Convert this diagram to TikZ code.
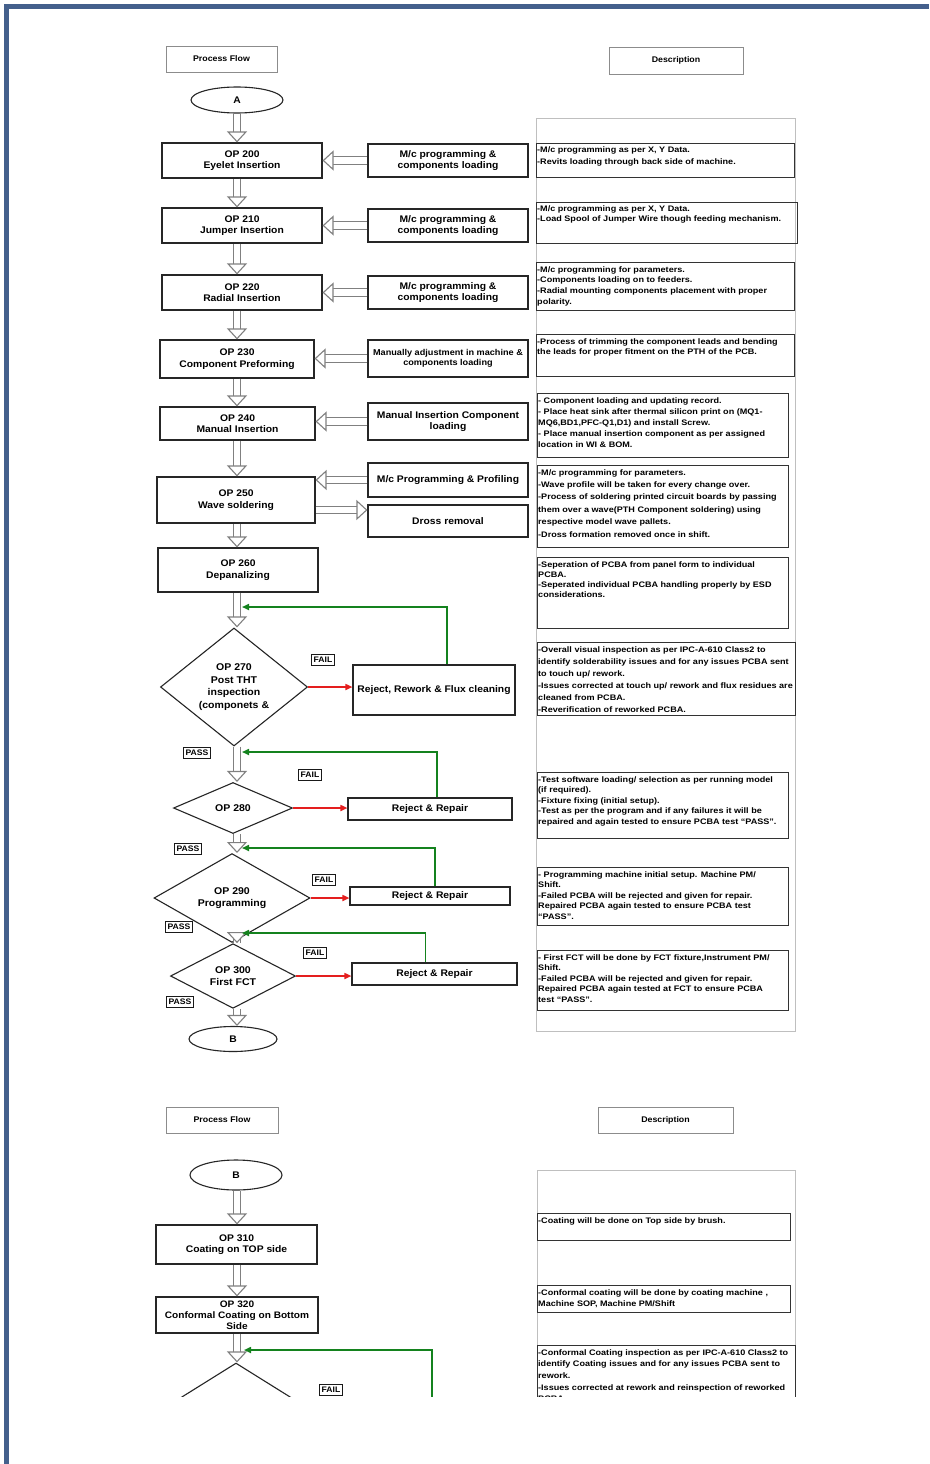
\documentclass[tikz,border=0pt]{standalone}
\usepackage{fontspec}
\setmainfont{Liberation Sans}
\newfontfamily\fa[FakeStretch=1.075]{Liberation Sans}
\newfontfamily\fb[FakeStretch=1.134]{Liberation Sans}
\usetikzlibrary{shapes.geometric,arrows.meta,fit,calc}
\begin{document}
\begin{tikzpicture}[x=1pt,y=-1pt,
  box/.style={draw=black!85, line width=1.1pt, inner sep=0pt, align=center, font=\fa\fontsize{9.6}{11.5}\selectfont\bfseries},
  hdr/.style={draw=black!45, line width=0.9pt, inner sep=0pt, align=center, font=\fa\fontsize{8.2}{9}\selectfont\bfseries},
  dbox/.style={draw=black!80, line width=1pt, inner sep=0pt},
  obox/.style={draw=black!25, line width=0.9pt, inner sep=0pt},
  dtext/.style={anchor=north west, inner sep=0pt, xshift=1.5pt, yshift=-4.5pt, align=left, font=\fb\fontsize{8}{10.5}\selectfont\bfseries},
  dia/.style={diamond, draw=black!85, line width=1.1pt, inner sep=0pt, align=center, font=\fa\fontsize{9.8}{12.5}\selectfont\bfseries},
  oval/.style={ellipse, draw=black!85, line width=1.1pt, inner sep=0pt, font=\fa\fontsize{9.6}{10}\selectfont\bfseries},
  hollow/.style={draw=black!50, line width=1.2pt, double=white, double distance=6.5pt,
     -{Triangle[fill=white, length=11pt, width=20pt, line width=1.1pt]}},
  redarr/.style={draw={rgb,255:red,228;green,30;blue,30}, line width=1.6pt, -{Triangle[length=7pt,width=6pt]}},
  grnarr/.style={draw={rgb,255:red,20;green,130;blue,30}, line width=1.6pt, -{Triangle[length=7pt,width=6pt]}},
  tag/.style={draw=black!90, line width=1.1pt, inner xsep=2pt, inner ysep=2.8pt, font=\fa\fontsize{8}{8}\selectfont\bfseries}
]
\useasboundingbox (0,0) rectangle (929,1464);
\fill[white] (0,0) rectangle (929,1464);
\draw[line width=5pt, color={rgb,255:red,68;green,96;blue,140}] (6.5,1464) -- (6.5,6.5) -- (929,6.5);

\begin{scope}
\clip (140,20) rectangle (812,1396);
\coordinate (cx) at (237,0);

% headers
\node[hdr, minimum width=111pt, minimum height=26pt] (h1) at (221.5,59) {Process Flow};
\node[hdr, minimum width=134pt, minimum height=27pt] (h2) at (676,60.5) {Description};
\node[hdr, minimum width=112pt, minimum height=26pt] (h3) at (222,1120) {Process Flow};
\node[hdr, minimum width=135pt, minimum height=26pt] (h4) at (665.5,1120) {Description};

% outer description frames
\node[obox, fit={(536,118) (795,1031)}] (outer1) {};
\node[obox, fit={(537,1170) (795,1420)}] (outer2) {};

% ovals
\node[oval, minimum width=92pt, minimum height=26pt] (A) at (237,100) {A};
\node[oval, minimum width=88pt, minimum height=25pt] (B) at (233,1039) {B};
\node[oval, minimum width=92pt, minimum height=30pt] (B2) at (236,1175) {B};

% flow boxes
\node[box, minimum width=160pt, minimum height=35pt] (op200) at (242,160.5) {OP 200\\Eyelet Insertion};
\node[box, minimum width=160pt, minimum height=35pt] (op210) at (242,225.5) {OP 210\\Jumper Insertion};
\node[box, minimum width=160pt, minimum height=35pt] (op220) at (242,292.5) {OP 220\\Radial Insertion};
\node[box, minimum width=154pt, minimum height=38pt] (op230) at (237,359) {OP 230\\Component Preforming};
\node[box, minimum width=155pt, minimum height=33pt] (op240) at (237.5,423.5) {OP 240\\Manual Insertion};
\node[box, minimum width=158pt, minimum height=46pt] (op250) at (236,500) {OP 250\\Wave soldering};
\node[box, minimum width=160pt, minimum height=44pt] (op260) at (238,570) {OP 260\\Depanalizing};
\node[box, minimum width=161pt, minimum height=39pt] (op310) at (236.5,1244.5) {OP 310\\Coating on TOP side};
\node[box, minimum width=162pt, minimum height=36pt, font=\fa\fontsize{9.4}{11}\selectfont\bfseries] (op320) at (237,1315) {OP 320\\Conformal Coating on Bottom\\Side};

% middle boxes
\node[box, minimum width=160pt, minimum height=33pt] (m200) at (448,160.5) {M/c programming \&\\components loading};
\node[box, minimum width=160pt, minimum height=33pt] (m210) at (448,225.5) {M/c programming \&\\components loading};
\node[box, minimum width=160pt, minimum height=33pt] (m220) at (448,292.5) {M/c programming \&\\components loading};
\node[box, minimum width=160pt, minimum height=37pt, font=\fa\fontsize{8.5}{10.5}\selectfont\bfseries] (m230) at (448,358.5) {Manually adjustment in machine \&\\components loading};
\node[box, minimum width=160pt, minimum height=37pt] (m240) at (448,421.5) {Manual Insertion Component\\loading};
\node[box, minimum width=160pt, minimum height=34pt] (m250a) at (448,480) {M/c Programming \& Profiling};
\node[box, minimum width=160pt, minimum height=32pt] (m250b) at (448,521) {Dross removal};

% diamonds
\node[dia, minimum width=147pt, minimum height=118pt] (d270) at (234,687) {OP 270\\Post THT\\inspection\\(componets \&};
\node[dia, minimum width=119pt, minimum height=51pt] (d280) at (233,808) {OP 280};
\node[dia, minimum width=156pt, minimum height=53pt, font=\fa\fontsize{9.8}{11.5}\selectfont\bfseries] (d290) at (232,898) {OP 290\\Programming};
\node[dia, minimum width=125pt, minimum height=52pt, font=\fa\fontsize{9.8}{11.5}\selectfont\bfseries] (d300) at (233,976) {OP 300\\First FCT};
\node[dia, minimum width=160pt, minimum height=100pt] (d330) at (236,1413) {};

% reject boxes
\node[box, minimum width=162pt, minimum height=50pt] (r270) at (434,690) {Reject, Rework \& Flux cleaning};
\node[box, minimum width=164pt, minimum height=22pt] (r280) at (430,809) {Reject \& Repair};
\node[box, minimum width=160pt, minimum height=18pt] (r290) at (430,896) {Reject \& Repair};
\node[box, minimum width=165pt, minimum height=22pt] (r300) at (434.5,974) {Reject \& Repair};
\coordinate (r330) at (432,1420);

% tags
\node[tag] (f1) at (323,660) {FAIL};
\node[tag] (p1) at (197,753) {PASS};
\node[tag] (f2) at (310,775) {FAIL};
\node[tag] (p2) at (188,849) {PASS};
\node[tag] (f3) at (324,880) {FAIL};
\node[tag] (p3) at (179,927) {PASS};
\node[tag] (f4) at (315,953) {FAIL};
\node[tag] (p4) at (180,1002) {PASS};
\node[tag] (f5) at (331,1390) {FAIL};

% vertical hollow arrows
\draw[hollow] (cx |- A.south) -- (cx |- op200.north);
\draw[hollow] (cx |- op200.south) -- (cx |- op210.north);
\draw[hollow] (cx |- op210.south) -- (cx |- op220.north);
\draw[hollow] (cx |- op220.south) -- (cx |- op230.north);
\draw[hollow] (cx |- op230.south) -- (cx |- op240.north);
\draw[hollow] (cx |- op240.south) -- (cx |- op250.north);
\draw[hollow] (cx |- op250.south) -- (cx |- op260.north);
\draw[hollow] (cx |- op260.south) -- (cx |- d270.north);
\draw[hollow] (cx |- d270.south) -- (cx |- d280.north);
\draw[hollow] (cx |- d280.south) -- (cx |- d290.north);
\draw[hollow] (cx |- d290.south) -- (cx |- d300.north);
\draw[hollow] (cx |- d300.south) -- (cx |- B.north);
\draw[hollow] (cx |- B2.south) -- (cx |- op310.north);
\draw[hollow] (cx |- op310.south) -- (cx |- op320.north);
\draw[hollow] (cx |- op320.south) -- (cx |- d330.north);

% horizontal hollow arrows
\draw[hollow] (m200.west) -- (m200.west -| op200.east);
\draw[hollow] (m210.west) -- (m210.west -| op210.east);
\draw[hollow] (m220.west) -- (m220.west -| op220.east);
\draw[hollow] (m230.west) -- (m230.west -| op230.east);
\draw[hollow] (m240.west) -- (m240.west -| op240.east);
\draw[hollow] (m250a.west) -- (m250a.west -| op250.east);
\draw[hollow] ($(op250.east |- m250b.west)+(0,-11)$) -- ($(m250b.west)+(0,-11)$);

% red fail arrows
\draw[redarr] (d270.east) -- (d270.east -| r270.west);
\draw[redarr] (d280.east) -- (d280.east -| r280.west);
\draw[redarr] (d290.east) -- (d290.east -| r290.west);
\draw[redarr] (d300.east) -- (d300.east -| r300.west);

% green return loops
\coordinate (g1) at (242,607);
\coordinate (g2) at (242,752);
\coordinate (g3) at (242,848);
\coordinate (g4) at (242,933);
\coordinate (g5) at (244,1350);
\draw[grnarr] ([xshift=13pt]r270.north) |- (g1);
\draw[grnarr] ([xshift=7pt]r280.north) |- (g2);
\draw[grnarr] ([xshift=5pt]r290.north) |- (g3);
\draw[grnarr] ([xshift=-9pt]r300.north) |- (g4);
\draw[grnarr] (r330) |- (g5);

% description boxes
\node[dbox, fit={(536,143) (794,177)}] (e200) {};
\node[dtext, font=\fb\fontsize{8}{12}\selectfont\bfseries] at (e200.north west) {-M/c programming as per X, Y Data.\\-Revits loading through back side of machine.};
\node[dbox, fit={(536,202) (797,243)}] (e210) {};
\node[dtext, font=\fb\fontsize{8}{10}\selectfont\bfseries] at (e210.north west) {-M/c programming as per X, Y Data.\\-Load Spool of Jumper Wire though feeding mechanism.};
\node[dbox, fit={(536,262) (794,310)}] (e220) {};
\node[dtext, font=\fb\fontsize{8}{10.8}\selectfont\bfseries] at (e220.north west) {-M/c programming for parameters.\\-Components loading on to feeders.\\-Radial mounting components placement with proper\\polarity.};
\node[dbox, fit={(536,334) (794,376)}] (e230) {};
\node[dtext, font=\fb\fontsize{8}{10}\selectfont\bfseries] at (e230.north west) {-Process of trimming the component leads and bending\\the leads for proper fitment on the PTH of the PCB.};
\node[dbox, fit={(537,393) (788,457)}] (e240) {};
\node[dtext, font=\fb\fontsize{8}{11.2}\selectfont\bfseries] at (e240.north west) {- Component loading and updating record.\\- Place heat sink after thermal silicon print on (MQ1-\\MQ6,BD1,PFC-Q1,D1) and install Screw.\\- Place manual insertion component as per assigned\\location in WI \& BOM.};
\node[dbox, fit={(537,465) (788,547)}] (e250) {};
\node[dtext, font=\fb\fontsize{8}{12.4}\selectfont\bfseries] at (e250.north west) {-M/c programming for parameters.\\-Wave profile will be taken for every change over.\\-Process of soldering printed circuit boards by passing\\them over a wave(PTH Component soldering) using\\respective model wave pallets.\\-Dross formation removed once in shift.};
\node[dbox, fit={(537,557) (788,628)}] (e260) {};
\node[dtext, font=\fb\fontsize{8}{10}\selectfont\bfseries] at (e260.north west) {-Seperation of PCBA from panel form to individual\\PCBA.\\-Seperated individual PCBA handling properly by ESD\\considerations.};
\node[dbox, fit={(537,642) (795,715)}] (e270) {};
\node[dtext, font=\fb\fontsize{8}{12}\selectfont\bfseries] at (e270.north west) {-Overall visual inspection as per IPC-A-610 Class2 to\\identify solderability issues and for any issues PCBA sent\\to touch up/ rework.\\-Issues corrected at touch up/ rework and flux residues are\\cleaned from PCBA.\\-Reverification of reworked PCBA.};
\node[dbox, fit={(537,772) (788,838)}] (e280) {};
\node[dtext] at (e280.north west) {-Test software loading/ selection as per running model\\(if required).\\-Fixture fixing (initial setup).\\-Test as per the program and if any failures it will be\\repaired and again tested to ensure PCBA test “PASS”.};
\node[dbox, fit={(537,867) (788,925)}] (e290) {};
\node[dtext] at (e290.north west) {- Programming machine initial setup. Machine PM/\\Shift.\\-Failed PCBA will be rejected and given for repair.\\Repaired PCBA again tested to ensure PCBA test\\“PASS”.};
\node[dbox, fit={(537,950) (788,1010)}] (e300) {};
\node[dtext] at (e300.north west) {- First FCT will be done by FCT fixture,Instrument PM/\\Shift.\\-Failed PCBA will be rejected and given for repair.\\Repaired PCBA again tested at FCT to ensure PCBA\\test “PASS”.};
\node[dbox, fit={(537,1213) (790,1240)}] (e310) {};
\node[dtext] at (e310.north west) {-Coating will be done on Top side by brush.};
\node[dbox, fit={(537,1285) (790,1312)}] (e320) {};
\node[dtext, font=\fb\fontsize{8}{11}\selectfont\bfseries] at (e320.north west) {-Conformal coating will be done by coating machine ,\\Machine SOP, Machine PM/Shift};
\node[dbox, fit={(537,1345) (795,1420)}] (e330) {};
\node[dtext, font=\fb\fontsize{8}{11.7}\selectfont\bfseries] at (e330.north west) {-Conformal Coating inspection as per IPC-A-610 Class2 to\\identify Coating issues and for any issues PCBA sent to\\rework.\\-Issues corrected at rework and reinspection of reworked\\PCBA.};
\end{scope}
\end{tikzpicture}
\end{document}
